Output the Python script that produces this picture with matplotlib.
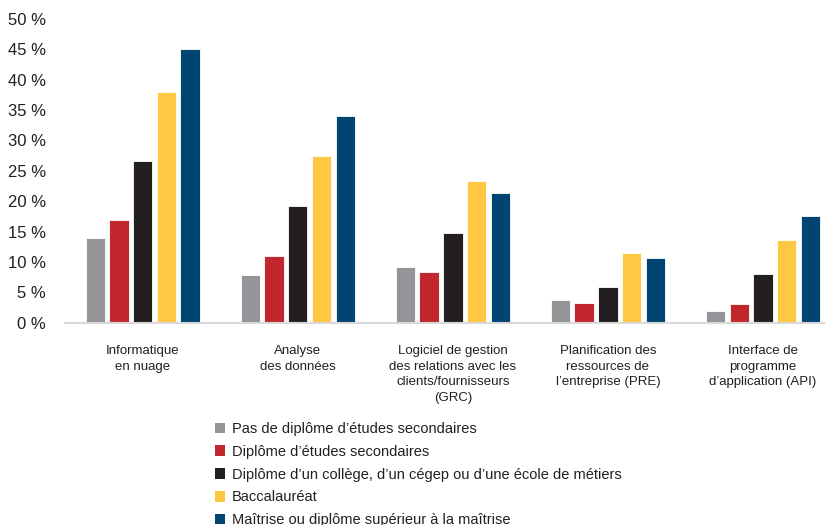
import numpy as np
import matplotlib.pyplot as plt
from matplotlib.ticker import FuncFormatter

plt.rcParams['font.family'] = ['Liberation Sans', 'DejaVu Sans']

# data
categories = [
    "Informatique\nen nuage",
    "Analyse\ndes données",
    "Logiciel de gestion\ndes relations avec les\nclients/fournisseurs\n(GRC)",
    "Planification des\nressources de\nl\u2019entreprise (PRE)",
    "Interface de\nprogramme\nd\u2019application (API)",
]
series_names = [
    "Pas de diplôme d\u2019études secondaires",
    "Diplôme d\u2019études secondaires",
    "Diplôme d\u2019un collège, d\u2019un cégep ou d\u2019une école de métiers",
    "Baccalauréat",
    "Maîtrise ou diplôme supérieur à la maîtrise",
]
no_diploma = [14.0, 7.9, 9.2, 3.8, 1.9]
high_school = [16.9, 11.0, 8.3, 3.2, 3.1]
college = [26.6, 19.3, 14.8, 5.9, 8.1]
bachelor = [37.9, 27.5, 23.3, 11.5, 13.7]
master = [45.1, 34.0, 21.4, 10.6, 17.5]
series = [no_diploma, high_school, college, bachelor, master]
colors = ['#939598', '#C1272D', '#231F20', '#FFC843', '#004471']

text_col = '#231F20'

fig = plt.figure(figsize=(8.25, 5.25), dpi=100)
ax = fig.add_axes([0.079, 0.385, 0.921, 0.579])

x = np.arange(len(categories))
pitch = 0.153
width = 0.125
for i, (vals, name, col) in enumerate(zip(series, series_names, colors)):
    ax.bar(x + (i - 2) * pitch, vals, width, color=col, label=name,
           edgecolor='white', linewidth=0.6)

ax.set_xlim(-0.5, 4.40)
ax.set_ylim(0, 50)
ax.set_yticks(np.arange(0, 51, 5))
ax.yaxis.set_major_formatter(FuncFormatter(lambda v, p: f"{int(v)} %"))
ax.tick_params(axis='y', length=0, labelsize=12, labelcolor=text_col, pad=14)
ax.set_xticks(x)
ax.set_xticklabels(categories, fontsize=9.5, color=text_col, linespacing=1.4)
ax.tick_params(axis='x', length=0, pad=16)

for s in ['top', 'right', 'left']:
    ax.spines[s].set_visible(False)
ax.spines['bottom'].set_color('#D9D9D9')
ax.spines['bottom'].set_linewidth(1.5)

handles, labels = ax.get_legend_handles_labels()
leg = fig.legend(handles, labels, loc='upper left', bbox_to_anchor=(0.26, 0.196),
                 frameon=False, fontsize=10.5, handlelength=0.75, handleheight=0.75,
                 handletextpad=0.45, labelspacing=0.6, borderaxespad=0, borderpad=0)
for t in leg.get_texts():
    t.set_color(text_col)
for h in leg.legend_handles:
    h.set_linewidth(0)

fig.savefig('out.png', dpi=100)
